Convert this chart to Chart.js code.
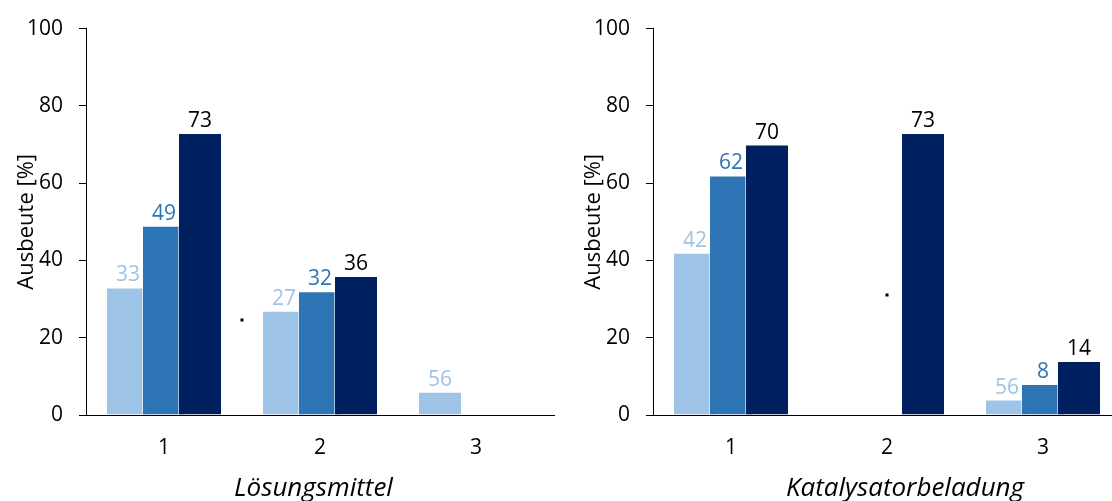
<!DOCTYPE html>
<html><head><meta charset="utf-8">
<script src="https://cdn.jsdelivr.net/npm/chart.js@4.4.0/dist/chart.umd.min.js"></script>
<style>
html,body{margin:0;padding:0;background:#fff;overflow:hidden;width:1112px;height:501px;}
#wrap{position:relative;width:1112px;height:501px;overflow:hidden;background:#fff;}
.box{position:absolute;top:0;height:501px;width:560px;}
canvas{display:block;}
</style></head><body>
<div id="wrap">
<div class="box" style="left:0"><canvas id="c1" width="560" height="501" style="width:560px;height:501px"></canvas></div>
<div class="box" style="left:567px"><canvas id="c2" width="560" height="501" style="width:560px;height:501px"></canvas></div>
</div>
<script>
// ---- data ----
const categories = ['1', '2', '3'];
const yTicks = [0, 20, 40, 60, 80, 100];

const leftLight = [33, 27, 6];
const leftLightLabels = ['33', '27', '56'];
const leftMedium = [49, 32, null];
const leftMediumLabels = ['49', '32', null];
const leftDark = [73, 36, null];
const leftDarkLabels = ['73', '36', null];
const leftDots = [{x: 0.5, y: 24.6}];
const leftTitle = 'Lösungsmittel';

const rightLight = [42, null, 4];
const rightLightLabels = ['42', null, '56'];
const rightMedium = [62, null, 8];
const rightMediumLabels = ['62', null, '8'];
const rightDark = [70, 73, 14];
const rightDarkLabels = ['70', '73', '14'];
const rightDots = [{x: 1, y: 31}];
const rightTitle = 'Katalysatorbeladung';

const yTitle = 'Ausbeute [%]';

// ---- styles ----
const LIGHT = '#9DC3E6', MEDIUM = '#2E75B6', DARK = '#002060';
const FONT = '"Open Sans", "DejaVu Sans", sans-serif';

const overlapDraw = {
  id: 'overlapDraw',
  beforeDatasetsDraw(chart) {
    const metas = chart.getSortedVisibleDatasetMetas();
    metas.forEach(m => m.controller.draw());   // later series drawn on top
    const ctx = chart.ctx;
    const o = chart.options.plugins.overlapDraw;
    ctx.save();
    // small dot markers, positioned through the chart's scales
    ctx.fillStyle = '#000';
    o.dots.forEach(d => {
      const px = chart.scales.x.getPixelForValue(d.x);
      const py = chart.scales.y.getPixelForValue(d.y);
      ctx.fillRect(Math.round(px) - 1.5, Math.round(py) - 1.5, 3, 3);
    });
    ctx.font = '21px ' + FONT;
    ctx.textAlign = 'center';
    ctx.textBaseline = 'alphabetic';
    metas.forEach(m => {
      const ds = chart.data.datasets[m.index];
      if (!ds.valueLabels) return;
      ctx.fillStyle = ds.labelColor;
      m.data.forEach((el, i) => {
        const t = ds.valueLabels[i];
        if (t == null) return;
        ctx.fillText(t, el.x, el.y - 6);
      });
    });
    ctx.font = 'italic 26px ' + FONT;
    ctx.fillStyle = '#000';
    ctx.fillText(o.text, chart.chartArea.left + (chart.chartArea.right - chart.chartArea.left) / 2 + o.shift, o.baseline);
    ctx.restore();
    return false;
  }
};

function barSet(values, labels, color, labelColor) {
  return {
    data: values, valueLabels: labels, labelColor: labelColor,
    backgroundColor: color, borderColor: 'rgba(255,255,255,0.55)', borderWidth: 1,
    categoryPercentage: 108 / 156, barPercentage: 44 / 36
  };
}

function makeChart(id, light, lightL, medium, mediumL, dark, darkL, dots, title, shift) {
  return new Chart(document.getElementById(id), {
    type: 'bar',
    data: {
      labels: categories,
      datasets: [
        barSet(light, lightL, LIGHT, LIGHT),
        barSet(medium, mediumL, MEDIUM, MEDIUM),
        barSet(dark, darkL, DARK, '#000')
      ]
    },
    options: {
      responsive: false, animation: false,
      layout: { padding: { top: 24, right: 6, left: 0, bottom: 0 } },
      plugins: { legend: { display: false }, tooltip: { enabled: false },
        overlapDraw: { text: title, shift: shift, baseline: 496, dots: dots } },
      scales: {
        x: {
          type: 'category', offset: true,
          grid: { display: false, drawTicks: false },
          border: { display: true, color: '#000', width: 1 },
          ticks: { color: '#000', font: { family: FONT, size: 21 }, padding: 20 },
          afterFit: s => { s.height = 86; }
        },
        y: {
          min: 0, max: 100,
          afterBuildTicks: s => { s.ticks = yTicks.map(v => ({ value: v })); },
          grid: { drawOnChartArea: false, drawTicks: true, tickLength: 7, color: '#000' },
          border: { display: true, color: '#000', width: 1 },
          ticks: { color: '#000', font: { family: FONT, size: 21 }, padding: 16 },
          title: { display: true, text: yTitle, color: '#000',
            font: { family: FONT, size: 22 }, padding: { top: 14, bottom: 0 } },
          afterFit: s => { s.width = 86; }
        }
      }
    },
    plugins: [overlapDraw]
  });
}

makeChart('c1', leftLight, leftLightLabels, leftMedium, leftMediumLabels, leftDark, leftDarkLabels, leftDots, leftTitle, -6.5);
makeChart('c2', rightLight, rightLightLabels, rightMedium, rightMediumLabels, rightDark, rightDarkLabels, rightDots, rightTitle, 18);
</script>
</body></html>
